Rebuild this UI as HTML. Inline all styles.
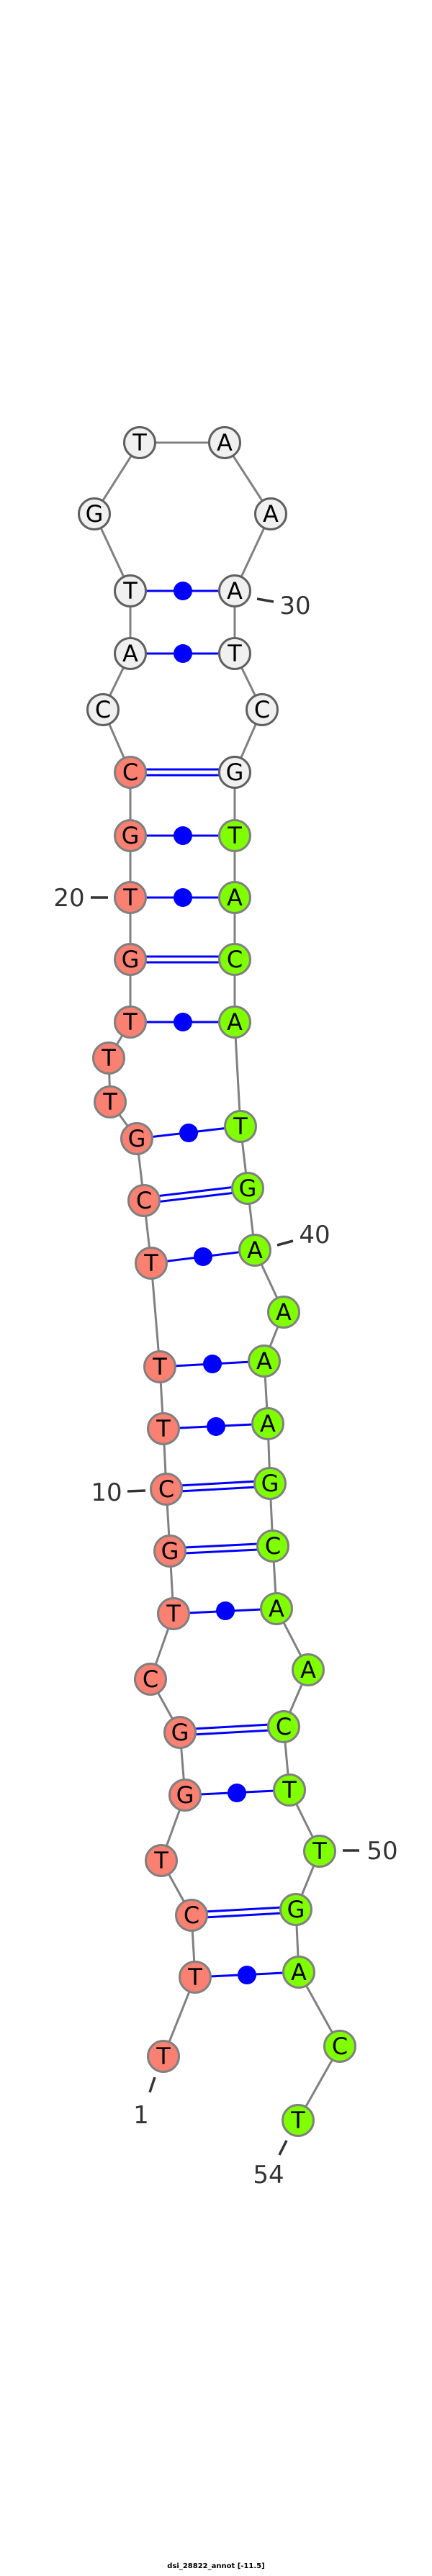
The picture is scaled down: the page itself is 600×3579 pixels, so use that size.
<!DOCTYPE html>
<html><head><meta charset="utf-8"><style>
html,body{margin:0;padding:0;background:#fff;}
svg{display:block;}
.bb{stroke:#808080;stroke-width:3;fill:none;}
.bp{stroke:#0000ff;stroke-width:3;fill:none;}
.r{fill:#fa8072;stroke:#808080;stroke-width:3;}
.g{fill:#7fff00;stroke:#808080;stroke-width:3;}
.w{fill:#f0f0f0;stroke:#606060;stroke-width:3;}
.n{font-family:"DejaVu Sans","Liberation Sans",sans-serif;font-size:32px;fill:#000;text-anchor:middle;dominant-baseline:central;}
.lb{font-family:"DejaVu Sans","Liberation Sans",sans-serif;font-size:34px;fill:#333;text-anchor:middle;dominant-baseline:central;}
.tk{stroke:#333;stroke-width:3.5;}
</style></head><body>
<svg width="600" height="3579" viewBox="0 0 600 3579" xmlns="http://www.w3.org/2000/svg">
<polyline class="bb" points="227,2857 271,2747 266,2661 224,2585 257,2494 250,2407 209,2333 241,2242 236,2155 231,2069 227,1985 222,1899 210,1755 200,1668 190,1582 153,1531 151,1470 181,1420 181,1333 181,1247 181,1161 181,1073 143,986 181,908 181,821 131,714 194,615 312,615 376,714 326,821 326,908 364,986 326,1073 326,1161 326,1247 326,1333 326,1420 334,1565 344,1651 354,1737 394,1823 367,1891 372,1978 375,2061 379,2148 384,2235 428,2320 394,2399 402,2487 444,2572 411,2653 415,2740 472,2843 414,2946"/>
<!-- single (dot) pairs -->
<g class="bp">
<line x1="271" y1="2747" x2="415" y2="2740"/>
<line x1="257" y1="2494" x2="402" y2="2487"/>
<line x1="241" y1="2242" x2="384" y2="2235"/>
<line x1="227" y1="1985" x2="372" y2="1978"/>
<line x1="222" y1="1899" x2="367" y2="1891"/>
<line x1="210" y1="1755" x2="354" y2="1737"/>
<line x1="190" y1="1582" x2="334" y2="1565"/>
<line x1="181" y1="1420" x2="326" y2="1420"/>
<line x1="181" y1="1247" x2="326" y2="1247"/>
<line x1="181" y1="1161" x2="326" y2="1161"/>
<line x1="181" y1="908" x2="326" y2="908"/>
<line x1="181" y1="821" x2="326" y2="821"/>
<!-- double -->
<line x1="266" y1="2657" x2="411" y2="2649"/><line x1="266" y1="2665" x2="411" y2="2657"/>
<line x1="250" y1="2403" x2="394" y2="2395"/><line x1="250" y1="2411" x2="394" y2="2403"/>
<line x1="236" y1="2151" x2="379" y2="2144"/><line x1="236" y1="2159" x2="379" y2="2152"/>
<line x1="231" y1="2065" x2="375" y2="2057"/><line x1="231" y1="2073" x2="375" y2="2065"/>
<line x1="200" y1="1664" x2="344" y2="1647"/><line x1="200" y1="1672" x2="344" y2="1655"/>
<line x1="181" y1="1329" x2="326" y2="1329"/><line x1="181" y1="1337" x2="326" y2="1337"/>
<line x1="181" y1="1069" x2="326" y2="1069"/><line x1="181" y1="1077" x2="326" y2="1077"/>
</g>
<g fill="#0000ff">
<circle cx="343" cy="2744" r="13"/>
<circle cx="329" cy="2491" r="13"/>
<circle cx="313" cy="2238" r="13"/>
<circle cx="300" cy="1982" r="13"/>
<circle cx="295" cy="1895" r="13"/>
<circle cx="282" cy="1746" r="13"/>
<circle cx="262" cy="1574" r="13"/>
<circle cx="254" cy="1420" r="13"/>
<circle cx="254" cy="1247" r="13"/>
<circle cx="254" cy="1161" r="13"/>
<circle cx="254" cy="908" r="13"/>
<circle cx="254" cy="821" r="13"/>
</g>
<!-- nodes -->
<g>
<circle class="r" cx="227" cy="2857" r="21.5"/><text class="n" x="227" y="2857">T</text>
<circle class="r" cx="271" cy="2747" r="21.5"/><text class="n" x="271" y="2747">T</text>
<circle class="r" cx="266" cy="2661" r="21.5"/><text class="n" x="266" y="2661">C</text>
<circle class="r" cx="224" cy="2585" r="21.5"/><text class="n" x="224" y="2585">T</text>
<circle class="r" cx="257" cy="2494" r="21.5"/><text class="n" x="257" y="2494">G</text>
<circle class="r" cx="250" cy="2407" r="21.5"/><text class="n" x="250" y="2407">G</text>
<circle class="r" cx="209" cy="2333" r="21.5"/><text class="n" x="209" y="2333">C</text>
<circle class="r" cx="241" cy="2242" r="21.5"/><text class="n" x="241" y="2242">T</text>
<circle class="r" cx="236" cy="2155" r="21.5"/><text class="n" x="236" y="2155">G</text>
<circle class="r" cx="231" cy="2069" r="21.5"/><text class="n" x="231" y="2069">C</text>
<circle class="r" cx="227" cy="1985" r="21.5"/><text class="n" x="227" y="1985">T</text>
<circle class="r" cx="222" cy="1899" r="21.5"/><text class="n" x="222" y="1899">T</text>
<circle class="r" cx="210" cy="1755" r="21.5"/><text class="n" x="210" y="1755">T</text>
<circle class="r" cx="200" cy="1668" r="21.5"/><text class="n" x="200" y="1668">C</text>
<circle class="r" cx="190" cy="1582" r="21.5"/><text class="n" x="190" y="1582">G</text>
<circle class="r" cx="153" cy="1531" r="21.5"/><text class="n" x="153" y="1531">T</text>
<circle class="r" cx="151" cy="1470" r="21.5"/><text class="n" x="151" y="1470">T</text>
<circle class="r" cx="181" cy="1420" r="21.5"/><text class="n" x="181" y="1420">T</text>
<circle class="r" cx="181" cy="1333" r="21.5"/><text class="n" x="181" y="1333">G</text>
<circle class="r" cx="181" cy="1247" r="21.5"/><text class="n" x="181" y="1247">T</text>
<circle class="r" cx="181" cy="1161" r="21.5"/><text class="n" x="181" y="1161">G</text>
<circle class="r" cx="181" cy="1073" r="21.5"/><text class="n" x="181" y="1073">C</text>
<circle class="w" cx="143" cy="986" r="21.5"/><text class="n" x="143" y="986">C</text>
<circle class="w" cx="181" cy="908" r="21.5"/><text class="n" x="181" y="908">A</text>
<circle class="w" cx="181" cy="821" r="21.5"/><text class="n" x="181" y="821">T</text>
<circle class="w" cx="131" cy="714" r="21.5"/><text class="n" x="131" y="714">G</text>
<circle class="w" cx="194" cy="615" r="21.5"/><text class="n" x="194" y="615">T</text>
<circle class="w" cx="312" cy="615" r="21.5"/><text class="n" x="312" y="615">A</text>
<circle class="w" cx="376" cy="714" r="21.5"/><text class="n" x="376" y="714">A</text>
<circle class="w" cx="326" cy="821" r="21.5"/><text class="n" x="326" y="821">A</text>
<circle class="w" cx="326" cy="908" r="21.5"/><text class="n" x="326" y="908">T</text>
<circle class="w" cx="364" cy="986" r="21.5"/><text class="n" x="364" y="986">C</text>
<circle class="w" cx="326" cy="1073" r="21.5"/><text class="n" x="326" y="1073">G</text>
<circle class="g" cx="326" cy="1161" r="21.5"/><text class="n" x="326" y="1161">T</text>
<circle class="g" cx="326" cy="1247" r="21.5"/><text class="n" x="326" y="1247">A</text>
<circle class="g" cx="326" cy="1333" r="21.5"/><text class="n" x="326" y="1333">C</text>
<circle class="g" cx="326" cy="1420" r="21.5"/><text class="n" x="326" y="1420">A</text>
<circle class="g" cx="334" cy="1565" r="21.5"/><text class="n" x="334" y="1565">T</text>
<circle class="g" cx="344" cy="1651" r="21.5"/><text class="n" x="344" y="1651">G</text>
<circle class="g" cx="354" cy="1737" r="21.5"/><text class="n" x="354" y="1737">A</text>
<circle class="g" cx="394" cy="1823" r="21.5"/><text class="n" x="394" y="1823">A</text>
<circle class="g" cx="367" cy="1891" r="21.5"/><text class="n" x="367" y="1891">A</text>
<circle class="g" cx="372" cy="1978" r="21.5"/><text class="n" x="372" y="1978">A</text>
<circle class="g" cx="375" cy="2061" r="21.5"/><text class="n" x="375" y="2061">G</text>
<circle class="g" cx="379" cy="2148" r="21.5"/><text class="n" x="379" y="2148">C</text>
<circle class="g" cx="384" cy="2235" r="21.5"/><text class="n" x="384" y="2235">A</text>
<circle class="g" cx="428" cy="2320" r="21.5"/><text class="n" x="428" y="2320">A</text>
<circle class="g" cx="394" cy="2399" r="21.5"/><text class="n" x="394" y="2399">C</text>
<circle class="g" cx="402" cy="2487" r="21.5"/><text class="n" x="402" y="2487">T</text>
<circle class="g" cx="444" cy="2572" r="21.5"/><text class="n" x="444" y="2572">T</text>
<circle class="g" cx="411" cy="2653" r="21.5"/><text class="n" x="411" y="2653">G</text>
<circle class="g" cx="415" cy="2740" r="21.5"/><text class="n" x="415" y="2740">A</text>
<circle class="g" cx="472" cy="2843" r="21.5"/><text class="n" x="472" y="2843">C</text>
<circle class="g" cx="414" cy="2946" r="21.5"/><text class="n" x="414" y="2946">T</text>
</g>
<!-- labels -->
<line class="tk" x1="357" y1="832" x2="380" y2="836"/><text class="lb" x="410" y="842">30</text>
<line class="tk" x1="126" y1="1247" x2="150" y2="1247"/><text class="lb" x="96" y="1248">20</text>
<line class="tk" x1="385" y1="1730" x2="407" y2="1724"/><text class="lb" x="437" y="1716">40</text>
<line class="tk" x1="177" y1="2072" x2="202" y2="2071"/><text class="lb" x="148" y="2074">10</text>
<line class="tk" x1="476" y1="2571" x2="499" y2="2571"/><text class="lb" x="531" y="2572">50</text>
<line class="tk" x1="215" y1="2886" x2="208" y2="2907"/><text class="lb" x="196" y="2939">1</text>
<line class="tk" x1="398" y1="2974" x2="388" y2="2994"/><text class="lb" x="373" y="3022">54</text>
<text x="300" y="3568" font-family="'DejaVu Sans','Liberation Sans',sans-serif" font-size="10" font-weight="bold" text-anchor="middle" fill="#000">dsi_28822_annot [-11.5]</text>
</svg>
</body></html>
